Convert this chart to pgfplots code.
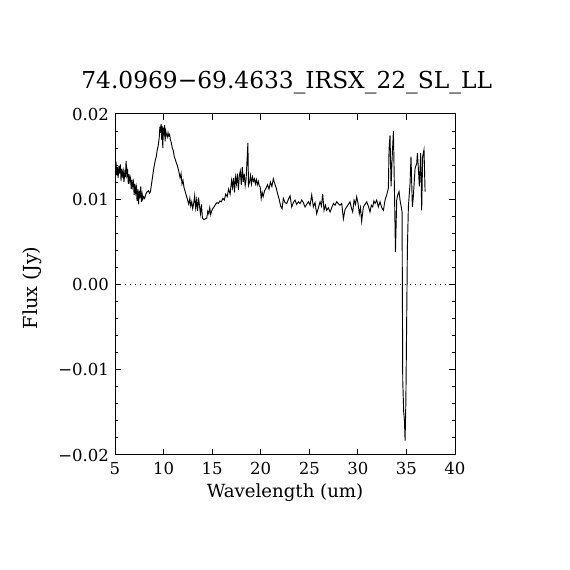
\documentclass[border=0pt]{standalone}
\usepackage{pgfplots}
\pgfplotsset{compat=1.18}
\usepackage{fontspec}
\setmainfont{DejaVu Serif}
\begin{document}
\begin{tikzpicture}
\useasboundingbox (0,0) rectangle (427.5pt,427.5pt);
\begin{axis}[
  scale only axis, width=255pt, height=255.75pt,
  at={(86.25pt,86.25pt)}, anchor=south west,
  xmin=5, xmax=40, ymin=-0.02, ymax=0.02,
  xtick={5,10,15,20,25,30,35,40},
  xticklabels={5,10,15,20,25,30,35,40},
  ytick={-0.02,-0.01,0,0.01,0.02},
  yticklabels={−0.02,−0.01,0.00,0.01,0.02},
  scaled y ticks=false,
  minor ytick={-0.018,-0.016,-0.014,-0.012,-0.008,-0.006,-0.004,-0.002,0.002,0.004,0.006,0.008,0.012,0.014,0.016,0.018},
  tick align=inside, xtick pos=both, ytick pos=both,
  major tick length=4.5pt, minor tick length=2.5pt,
  every tick/.style={black, line width=0.75pt},
  axis line style={line width=0.75pt},
  tick label style={font=\fontsize{12.4}{14}\selectfont},
  xticklabel style={yshift=-2pt},
  yticklabel style={xshift=-1pt},
  title={74.0969−69.4633\_IRSX\_22\_SL\_LL},
  title style={font=\fontsize{17.5}{19}\selectfont, at={(axis description cs:0.505,1.0527)}, anchor=base},
  xlabel={Wavelength (um)},
  xlabel style={font=\fontsize{13.6}{15}\selectfont, at={(axis description cs:0.5,-0.1232)}, anchor=base},
  ylabel={Flux (Jy)},
  ylabel style={font=\fontsize{14.5}{16}\selectfont, at={(axis description cs:-0.2284,0.49)}, anchor=base},
  clip=true,
]
\addplot[black, line width=0.6pt, dash pattern=on 0.75pt off 3pt] coordinates {(5,0) (40,0)};
\addplot[black, line width=0.7pt] table {
x y
5.00 0.0103
5.05 0.0135
5.12 0.0140
5.18 0.0128
5.25 0.0138
5.32 0.0125
5.40 0.0139
5.47 0.0130
5.55 0.0141
5.62 0.0122
5.70 0.0136
5.77 0.0128
5.85 0.0133
5.92 0.0120
6.00 0.0131
6.07 0.0126
6.14 0.0145
6.22 0.0128
6.30 0.0133
6.37 0.0118
6.45 0.0129
6.52 0.0121
6.60 0.0125
6.67 0.0112
6.75 0.0123
6.82 0.0115
6.90 0.0120
6.97 0.0105
7.05 0.0118
7.12 0.0108
7.20 0.0114
7.27 0.0098
7.35 0.0112
7.42 0.0094
7.50 0.0110
7.57 0.0101
7.65 0.0115
7.72 0.0097
7.80 0.0106
7.87 0.0100
7.95 0.0103
8.05 0.0101
8.15 0.0105
8.25 0.0108
8.35 0.0109
8.45 0.0110
8.55 0.0107
8.65 0.0109
8.75 0.0117
8.85 0.0125
8.95 0.0133
9.05 0.0140
9.15 0.0146
9.25 0.0150
9.35 0.0158
9.45 0.0163
9.55 0.0172
9.62 0.0185
9.68 0.0178
9.74 0.0188
9.80 0.0170
9.86 0.0186
9.92 0.0160
9.98 0.0184
10.04 0.0175
10.10 0.0187
10.16 0.0168
10.22 0.0180
10.30 0.0176
10.38 0.0173
10.46 0.0178
10.54 0.0174
10.62 0.0176
10.70 0.0170
10.80 0.0166
10.90 0.0160
11.00 0.0157
11.10 0.0150
11.20 0.0147
11.30 0.0143
11.40 0.0140
11.50 0.0136
11.60 0.0131
11.70 0.0125
11.80 0.0130
11.90 0.0118
12.00 0.0122
12.10 0.0114
12.20 0.0110
12.30 0.0106
12.40 0.0102
12.50 0.0098
12.60 0.0094
12.70 0.0101
12.80 0.0092
12.90 0.0097
13.00 0.0089
13.10 0.0095
13.20 0.0104
13.30 0.0090
13.40 0.0099
13.50 0.0086
13.60 0.0102
13.70 0.0092
13.80 0.0083
13.90 0.0094
14.00 0.0078
14.15 0.0076
14.30 0.0077
14.45 0.0078
14.55 0.0086
14.65 0.0083
14.75 0.0090
14.85 0.0082
14.95 0.0086
15.05 0.0089
15.20 0.0091
15.35 0.0094
15.50 0.0096
15.65 0.0095
15.80 0.0098
15.95 0.0097
16.10 0.0101
16.25 0.0099
16.40 0.0106
16.55 0.0103
16.70 0.0112
16.85 0.0106
17.00 0.0122
17.10 0.0114
17.20 0.0125
17.30 0.0108
17.40 0.0126
17.50 0.0118
17.60 0.0130
17.70 0.0111
17.80 0.0128
17.90 0.0133
18.00 0.0117
18.10 0.0138
18.20 0.0120
18.30 0.0130
18.40 0.0116
18.50 0.0124
18.62 0.0152
18.68 0.0166
18.74 0.0116
18.85 0.0120
18.95 0.0128
19.05 0.0118
19.15 0.0126
19.25 0.0121
19.35 0.0124
19.45 0.0118
19.55 0.0123
19.65 0.0117
19.75 0.0121
19.85 0.0116
19.95 0.0114
20.05 0.0101
20.15 0.0108
20.25 0.0103
20.40 0.0110
20.55 0.0113
20.70 0.0117
20.85 0.0112
21.00 0.0120
21.15 0.0115
21.30 0.0124
21.45 0.0118
21.60 0.0113
21.75 0.0106
21.90 0.0100
22.05 0.0092
22.20 0.0089
22.33 0.0101
22.50 0.0096
22.68 0.0095
22.85 0.0100
23.02 0.0104
23.19 0.0091
23.36 0.0096
23.53 0.0099
23.70 0.0094
23.88 0.0097
24.05 0.0095
24.22 0.0099
24.39 0.0096
24.56 0.0091
24.73 0.0094
24.91 0.0097
25.08 0.0093
25.25 0.0105
25.42 0.0091
25.59 0.0096
25.76 0.0083
25.94 0.0090
26.11 0.0097
26.25 0.0092
26.38 0.0106
26.52 0.0087
26.66 0.0093
26.79 0.0087
26.96 0.0090
27.14 0.0085
27.31 0.0090
27.48 0.0095
27.65 0.0093
27.82 0.0097
27.99 0.0095
28.16 0.0093
28.34 0.0095
28.51 0.0077
28.68 0.0088
28.85 0.0091
29.02 0.0094
29.19 0.0097
29.33 0.0090
29.47 0.0085
29.61 0.0099
29.75 0.0094
29.88 0.0103
30.02 0.0095
30.15 0.0083
30.27 0.0090
30.39 0.0074
30.57 0.0091
30.74 0.0094
30.91 0.0097
31.08 0.0092
31.25 0.0085
31.39 0.0093
31.53 0.0091
31.65 0.0098
31.77 0.0095
31.94 0.0099
32.11 0.0091
32.28 0.0097
32.46 0.0090
32.63 0.0087
32.80 0.0099
32.97 0.0105
33.14 0.0113
33.21 0.0158
33.31 0.0175
33.42 0.0115
33.52 0.0146
33.66 0.0180
33.76 0.0115
33.87 0.0038
34.00 0.0099
34.10 0.0105
34.24 0.0109
34.34 0.0099
34.45 0.0092
34.55 0.0085
34.62 -0.0112
34.72 -0.0150
34.80 -0.0160
34.86 -0.0183
34.94 -0.0139
35.02 -0.0049
35.10 0.0043
35.20 0.0091
35.37 0.0118
35.47 0.0150
35.61 0.0091
35.71 0.0103
35.89 0.0136
36.06 0.0142
36.13 0.0154
36.23 0.0136
36.33 0.0115
36.47 0.0154
36.57 0.0087
36.67 0.0150
36.81 0.0158
36.92 0.0109
};
\end{axis}
\end{tikzpicture}
\end{document}
